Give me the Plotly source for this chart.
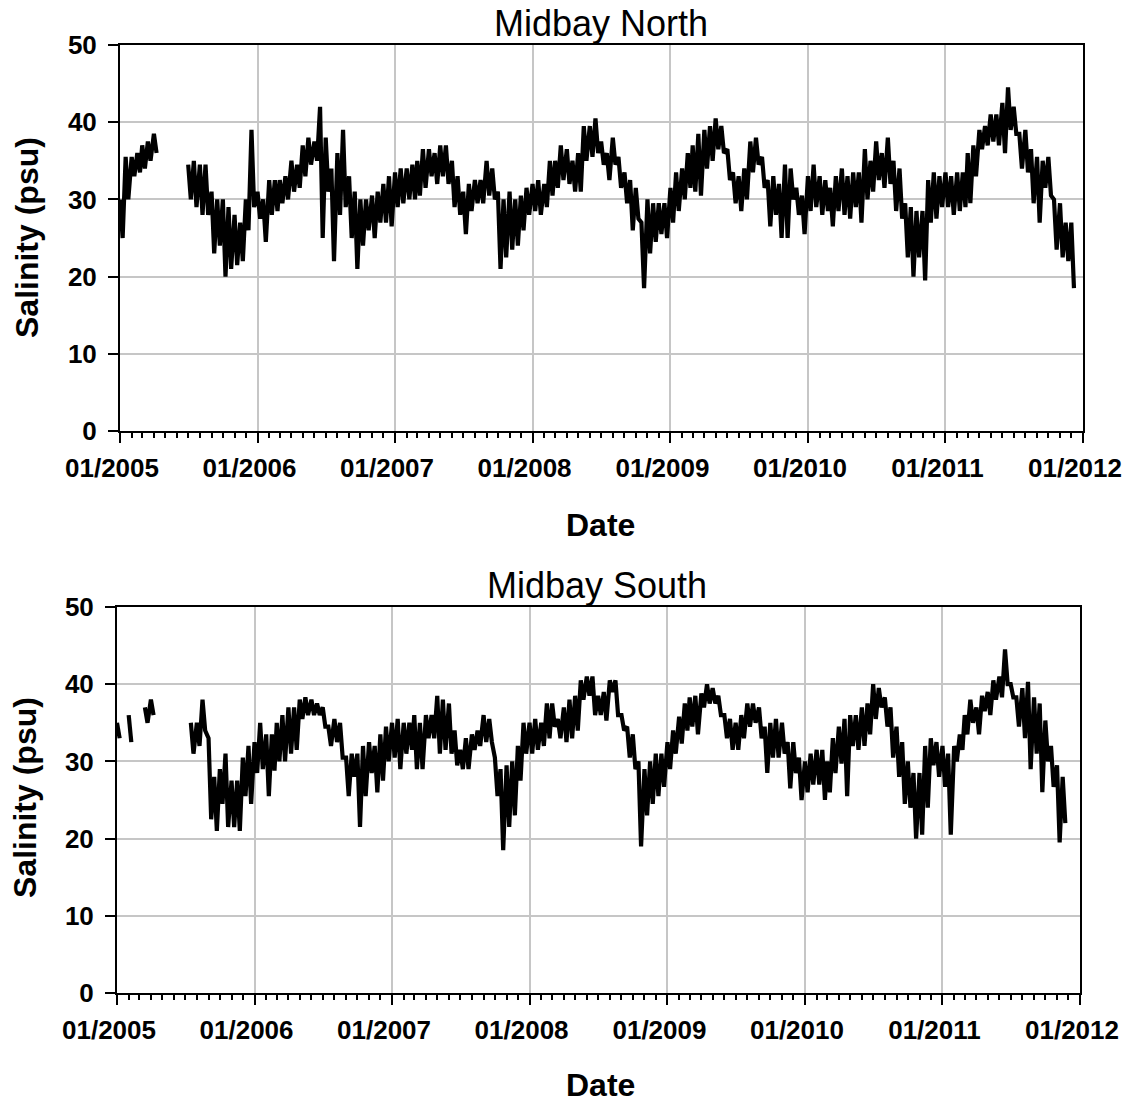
import datetime as dt
import plotly.graph_objects as go

# ---------------- data (half-month envelopes) ----------------
# Each half-month period (1st and 16th of every month, 2005-2011) has a high and a low value.
years = [2005, 2006, 2007, 2008, 2009, 2010, 2011]

north_hi = [
    30, 35.5, 35.5, 36, 37, 37.5, 38.5, None, None, None, None, None, 34.5, 35, 34.5, 34.5, 31, 30, 30, 29, 28, 27, 30, 39,
    31, 30, 32.5, 32.5, 32.5, 33, 35, 34.5, 37, 38, 37.5, 42, 38, 34, 36, 39, 33, 31, 30, 30, 30.5, 31, 32, 33,
    33.5, 34, 34, 34.5, 35, 36.5, 36.5, 36, 37, 37, 35, 33, 31, 32, 32.5, 32.5, 35, 34, 31, 30, 31, 30, 30.5, 31.5,
    32, 32.5, 32, 35, 35, 37, 36.5, 35, 36, 39.5, 39.5, 40.5, 37.5, 36, 38, 35.5, 33.5, 32.5, 31.5, 27, 30, 29.5, 29.5, 29.5,
    31.5, 33.5, 34, 36, 37, 38.5, 39, 39.5, 40.5, 39.5, 36.5, 33.5, 33, 34, 37.5, 38, 35.5, 32.5, 33, 32, 34.5, 34, 31.5, 30.5,
    33, 34.5, 33, 32.5, 31.5, 33, 34, 33, 33.5, 33.5, 36.5, 35, 37.5, 36, 38, 35, 34, 29.5, 29, 28.5, 28.5, 32.5, 33.5, 33,
    33.5, 33, 33.5, 33.5, 36, 37, 39, 39.5, 41, 41, 42.5, 44.5, 42, 38.5, 39, 36.5, 35.5, 35, 35.5, 30, 29.5, 27, 27, None,
]
north_lo = [
    25, 30, 33, 33.5, 34, 35, 36, None, None, None, None, None, 30, 29, 28, 28, 23, 24, 20, 21, 21.5, 22, 26, 29,
    27.5, 24.5, 28, 28.5, 29.5, 30, 31, 31.5, 33, 34.5, 35, 25, 31, 22, 28, 29, 25, 21, 24, 26, 25, 27, 27, 26.5,
    29, 29.5, 30, 30, 30.5, 31.5, 33, 32, 33, 32, 29, 28, 25.5, 28.5, 29.5, 29.5, 30.5, 30, 21, 22.5, 23.5, 24, 26, 28,
    28.5, 28, 29, 30.5, 31.5, 32.5, 32, 31, 31, 35, 35.5, 36, 34.5, 32.5, 34.5, 31.5, 29.5, 26, 27.5, 18.5, 23, 24.5, 25.5, 25,
    27, 28.5, 30, 31.5, 31, 30.5, 34, 35, 36.5, 36, 32.5, 29.5, 28.5, 30, 33.5, 34.5, 31.5, 26.5, 28, 25, 25, 30, 28, 25.5,
    28.5, 29, 28, 28.5, 26.5, 28.5, 28, 27.5, 29, 27, 30, 31, 32.5, 31.5, 32, 28.5, 27.5, 22.5, 20, 22.5, 19.5, 27, 27.5, 29,
    29, 28, 28.5, 29, 29.5, 33, 36.5, 37, 37.5, 37, 36, 39, 38.5, 34, 33.5, 29.5, 27, 31.5, 30.5, 23.5, 22.5, 22, 18.5, None,
]

south_hi = [
    35, None, 36, None, None, 37, 38, None, None, None, None, None, None, 35, 35, 38, 33, 28, 29, 31, 27.5, 27.5, 30.5, 32,
    32.5, 35, 33.5, 33.5, 35, 36, 37, 37, 38, 38.3, 38, 37.5, 37, 34.5, 35.5, 35, 30.5, 31, 31, 32, 32.5, 32, 33.5, 34.5,
    35, 35.5, 35, 35, 36, 35, 36, 36, 38.5, 38, 37.5, 34, 31.5, 33, 33.5, 34, 36, 35.5, 30.5, 29, 29.5, 30, 32, 35,
    35, 35.5, 35, 37.5, 37.5, 35.5, 37, 38, 38.5, 40.5, 41, 41, 38.5, 39, 40.5, 40.5, 36, 34.5, 33.5, 30, 29, 30, 31, 31,
    32.5, 34, 35.8, 37.5, 38.3, 38.5, 38.8, 40, 39.5, 38.5, 36, 35.5, 35, 36, 37.5, 37.5, 37, 34.5, 35, 35.5, 35, 32.5, 32.5, 30.5,
    30, 31, 31.5, 31.5, 30, 33, 34.5, 35.5, 36, 36, 37, 37.5, 40, 39.5, 38.3, 37, 34.5, 32.5, 30, 28.5, 28.5, 32, 33, 32.5,
    32, 31, 32, 33.5, 36, 38, 37, 38.5, 39, 40.5, 41, 44.5, 40, 38.3, 39.5, 40.3, 38.3, 37.5, 35.3, 32, 29.5, 28, None, None,
]
south_lo = [
    33, None, 32.5, None, None, 35, 36, None, None, None, None, None, None, 31, 32, 34, 22.5, 21, 24.5, 21.5, 21.5, 21, 25.5, 24.5,
    28.5, 29, 25.5, 28.8, 30, 30, 31, 31.5, 35.5, 36, 36, 36, 34.5, 32, 32.5, 30.5, 25.5, 28, 21.5, 25.5, 28.5, 26, 27.5, 30,
    30.5, 29, 31, 31.5, 29, 29, 33, 33, 31, 31.5, 31, 29.5, 29, 29, 31.5, 32, 32.5, 32.5, 25.5, 18.5, 21.5, 23, 27.5, 31,
    31, 31.5, 32, 33, 34.5, 33, 32.5, 33, 34, 38, 38.5, 36, 36, 35.3, 39, 36, 34, 30.5, 29, 19, 23, 24.5, 25.5, 26.7,
    29, 31, 32.3, 34, 34.5, 33.5, 37, 37.5, 37.5, 36, 33, 31.5, 31.5, 33, 34.5, 35, 33, 28.5, 30.5, 30.5, 31, 26.5, 28.5, 25,
    26, 27, 27, 25, 26, 28.5, 29.7, 25.5, 32, 31.5, 32, 33.5, 35.5, 37, 34.5, 30.5, 28, 24.5, 24, 20, 20.5, 24, 29.5, 28,
    26.7, 20.5, 30, 31.5, 33.5, 35, 33.5, 36.5, 36, 38, 38.3, 40, 38.3, 34.5, 33, 29, 31, 26, 30, 26.7, 19.5, 22, None, None,
]

x_range = ["2005-01-01", "2012-01-01"]
y_ticks = [0, 10, 20, 30, 40, 50]

# period start dates
periods = [dt.date(y, m, d) for y in years for m in range(1, 13) for d in (1, 16)]


def zigzag(hi, lo):
    xs, ys = [], []
    for p, h, l in zip(periods, hi, lo):
        xs += [p, p + dt.timedelta(days=7)]
        ys += [h, l]
    return xs, ys


nx, ny = zigzag(north_hi, north_lo)
sx, sy = zigzag(south_hi, south_lo)

# the page body margin is removed by post_script, so the figure fills the window
W, H = 1131, 1105
FONT = "Liberation Sans, Arial, sans-serif"
LW = 4.2

fig = go.Figure()
fig.add_trace(go.Scatter(x=nx, y=ny, mode="lines", line=dict(color="black", width=LW),
                         connectgaps=False, xaxis="x", yaxis="y", showlegend=False, hoverinfo="skip"))
fig.add_trace(go.Scatter(x=sx, y=sy, mode="lines", line=dict(color="black", width=LW),
                         connectgaps=False, xaxis="x2", yaxis="y2", showlegend=False, hoverinfo="skip"))


def px_x(p):
    return p / W


def px_y(p):
    return 1 - p / H


xcommon = dict(
    type="date", range=x_range, tick0="2005-01-01", dtick="M12", tickformat="%m/%Y",
    ticks="outside", ticklen=10, tickwidth=2, tickcolor="black", automargin=False,
    showline=True, linecolor="black", linewidth=2, mirror=True,
    showgrid=True, gridcolor="#c6c6c6", gridwidth=1.5, zeroline=False,
    tickfont=dict(family=FONT, size=26, color="black", weight="bold"),
    ticklabelstandoff=3, ticklabelshift=-8,
    minor=dict(dtick="M1", ticks="outside", ticklen=5, tickwidth=2, tickcolor="black", showgrid=False),
)
ycommon = dict(
    range=[0, 50], tickvals=y_ticks, ticks="outside", ticklen=10, tickwidth=2, tickcolor="black",
    showline=True, linecolor="black", linewidth=2, mirror=True, automargin=False,
    showgrid=True, gridcolor="#c6c6c6", gridwidth=1.5, zeroline=False,
    tickfont=dict(family=FONT, size=26, color="black", weight="bold"),
    ticklabelstandoff=6,
)

fig.update_layout(
    width=W, height=H, margin=dict(l=0, r=0, t=0, b=0, autoexpand=False),
    paper_bgcolor="white", plot_bgcolor="white", showlegend=False,
    xaxis=dict(domain=[px_x(120), px_x(1083)], anchor="y", **xcommon),
    yaxis=dict(domain=[px_y(431), px_y(45)], anchor="x", **ycommon),
    xaxis2=dict(domain=[px_x(117), px_x(1080)], anchor="y2", **xcommon),
    yaxis2=dict(domain=[px_y(993), px_y(607)], anchor="x2", **ycommon),
)

ann = []
ann.append(dict(text="Midbay North", x=px_x(601), y=px_y(1), xref="paper", yref="paper",
                showarrow=False, xanchor="center", yanchor="top",
                font=dict(family=FONT, size=36, color="black")))
ann.append(dict(text="Midbay South", x=px_x(597), y=px_y(585), xref="paper", yref="paper",
                showarrow=False, xanchor="center", yanchor="middle",
                font=dict(family=FONT, size=36, color="black")))
ann.append(dict(text="Date", x=px_x(600), y=px_y(525), xref="paper", yref="paper",
                showarrow=False, xanchor="center", yanchor="middle",
                font=dict(family=FONT, size=32, color="black", weight="bold")))
ann.append(dict(text="Date", x=px_x(600), y=px_y(1105), xref="paper", yref="paper",
                showarrow=False, xanchor="center", yanchor="bottom",
                font=dict(family=FONT, size=32, color="black", weight="bold")))
for xx, yy in ((27, 238), (25, 798)):
    ann.append(dict(text="Salinity (psu)", x=px_x(xx), y=px_y(yy), xref="paper", yref="paper",
                    showarrow=False, xanchor="center", yanchor="middle", textangle=-90,
                    font=dict(family=FONT, size=32, color="black", weight="bold")))
fig.update_layout(annotations=ann)

fig.write_html("out.html", config={"displayModeBar": False},
               post_script="document.body.style.margin='0';document.body.style.overflow='hidden';")
